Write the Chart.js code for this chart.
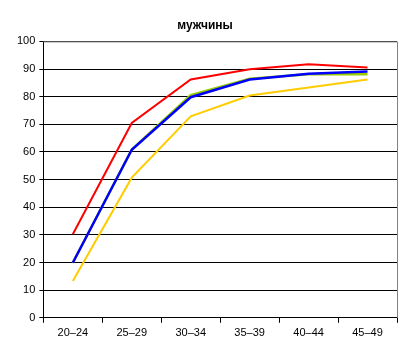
<!DOCTYPE html>
<html><head><meta charset="utf-8">
<script src="https://cdn.jsdelivr.net/npm/chart.js@4/dist/chart.umd.min.js"></script>
<style>html,body{margin:0;padding:0;background:#fff}#wrap{width:413px;height:354px}</style>
</head><body><div id="wrap"><canvas id="c" width="413" height="354"></canvas></div>
<script>
const categories = ["20–24","25–29","30–34","35–39","40–44","45–49"];
const redValues = [30.2, 70.5, 86.2, 89.9, 91.7, 90.6];
const blueValues = [19.9, 60.8, 79.8, 86.2, 88.3, 89.1];
const greenValues = [19.9, 60.9, 80.6, 86.5, 88.1, 88.1];
const yellowValues = [13.3, 50.7, 72.9, 80.4, 83.3, 86.2];
const yTicks = [0,10,20,30,40,50,60,70,80,90,100];

const framePlugin = {
  id: 'frame',
  afterDraw(chart) {
    const {ctx, chartArea: a} = chart;
    ctx.save();
    ctx.strokeStyle = '#808080';
    ctx.lineWidth = 1;
    ctx.beginPath();
    ctx.moveTo(a.left, a.top + 0.5);
    ctx.lineTo(a.right + 0.5, a.top + 0.5);
    ctx.lineTo(a.right + 0.5, a.bottom);
    ctx.stroke();
    ctx.restore();
  }
};

new Chart(document.getElementById('c'), {
  type: 'line',
  data: {
    labels: categories,
    datasets: [
      {data: redValues, borderColor: '#FF0000', borderWidth: 2, order: 1},
      {data: blueValues, borderColor: '#0000FF', borderWidth: 2.5, order: 2},
      {data: greenValues, borderColor: '#99CC00', borderWidth: 2.5, order: 3},
      {data: yellowValues, borderColor: '#FFCC00', borderWidth: 2, order: 4}
    ]
  },
  options: {
    responsive: false,
    animation: false,
    elements: {point: {radius: 0}, line: {tension: 0, fill: false}},
    layout: {padding: {left: 13, right: 16, top: 6, bottom: 10}},
    plugins: {
      legend: {display: false},
      tooltip: {enabled: false},
      title: {display: true, text: 'мужчины', color: '#000',
        font: {family: 'Liberation Sans', size: 12, weight: 'bold'},
        padding: {top: 12, bottom: 9}}
    },
    scales: {
      x: {
        offset: true,
        grid: {offset: true, drawOnChartArea: false, drawTicks: true, tickLength: 5, color: '#000'},
        border: {color: '#000', width: 1},
        ticks: {color: '#000', font: {family: 'Liberation Sans', size: 11}, padding: 4, maxRotation: 0}
      },
      y: {
        min: 0, max: 100,
        afterBuildTicks(axis) { axis.ticks = yTicks.map(v => ({value: v})); },
        grid: {color: '#000', lineWidth: 1, tickLength: 4, drawTicks: true},
        border: {color: '#000', width: 1},
        ticks: {color: '#000', font: {family: 'Liberation Sans', size: 11}, padding: 4}
      }
    }
  },
  plugins: [framePlugin]
});
</script>
</body></html>
